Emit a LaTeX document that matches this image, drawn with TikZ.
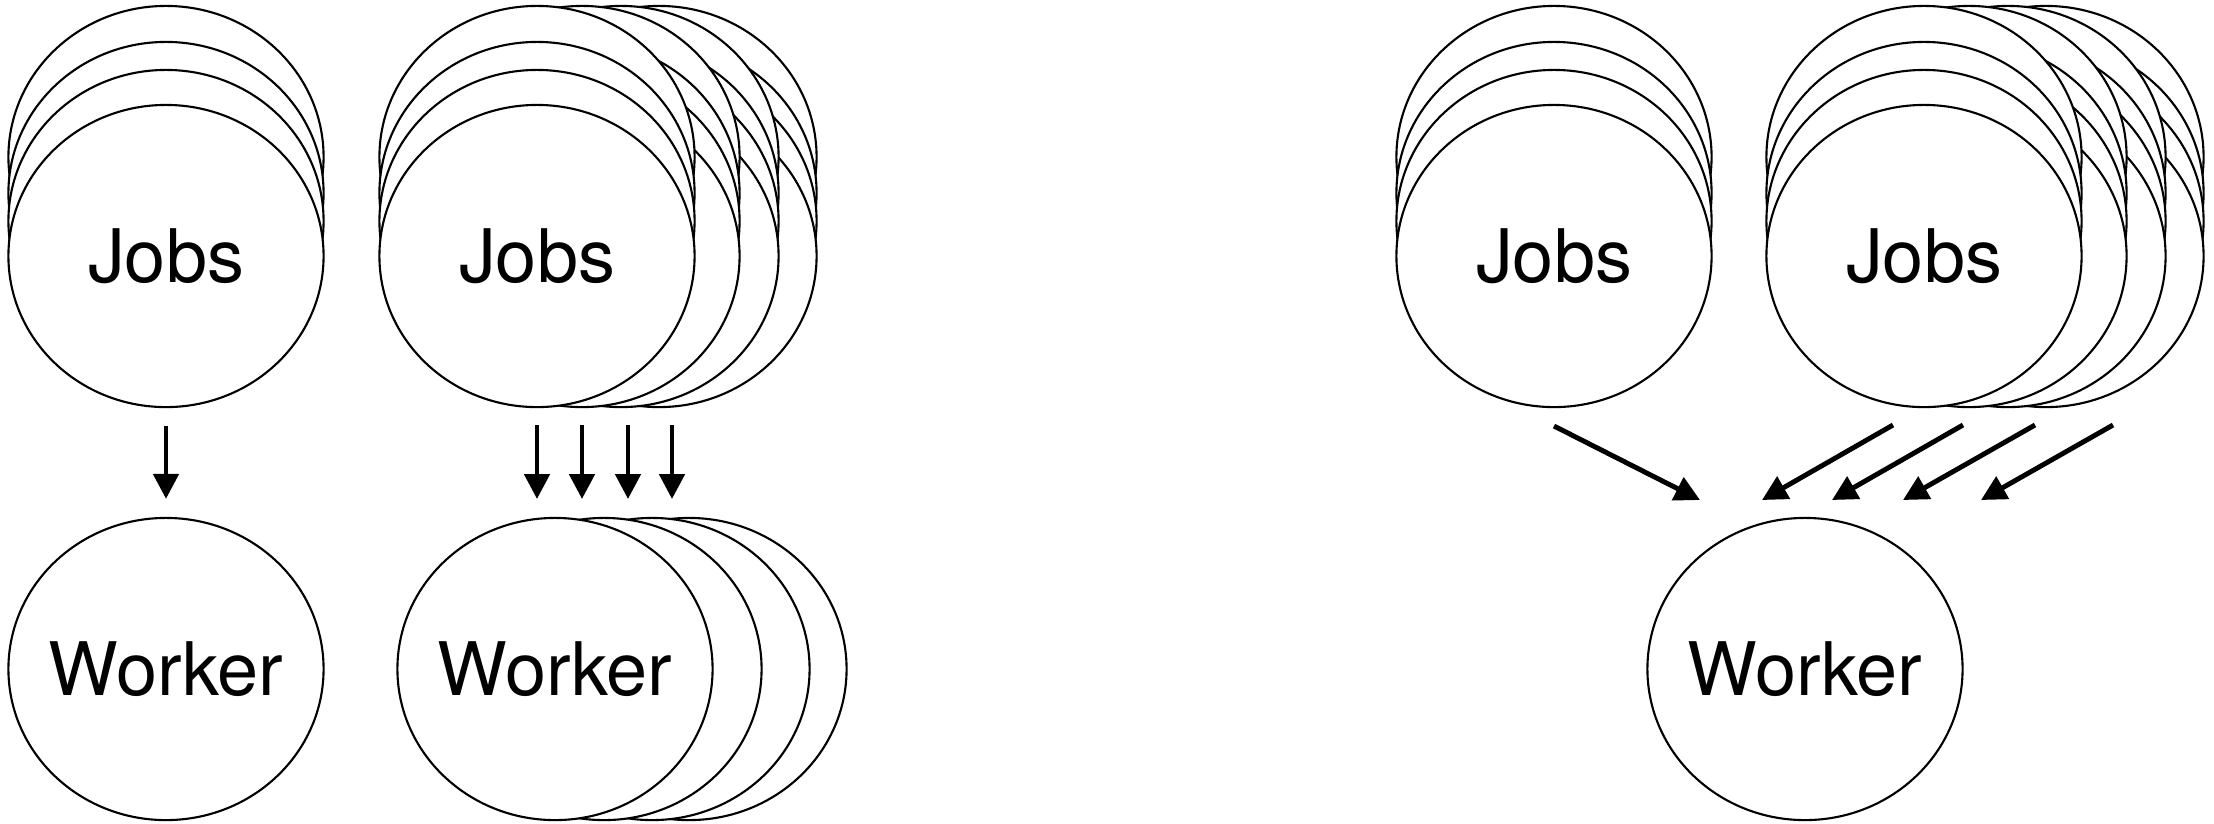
\documentclass[tikz,border=0pt]{standalone}
\usepackage{fontspec}
\setmainfont{TeX Gyre Heros}
\usepackage{tikz}
\usetikzlibrary{shapes.geometric, arrows.meta, positioning}
\tikzset{
  %% ---- circles ----
  jobcirc/.style  = {ellipse, draw=black, line width=0.6pt, fill=white,
                     minimum width=3.15cm, minimum height=3.02cm,
                     inner sep=0pt, inner xsep=-0.5cm,
                     font=\fontsize{21}{25}\selectfont},
  workcirc/.style = {jobcirc},
  %% ---- arrows ----
  arr/.style      = {-{Triangle[length=0.25cm, width=0.25cm]}, line width=1.4pt},
}
\begin{document}
\begin{tikzpicture}[x=0.01cm, y=-0.01cm]
\useasboundingbox (0,0) rectangle (2214,823);
%% one queue, one worker
\foreach \r/\y in {3/157, 2/193, 1/221}
  \node[jobcirc] (ja-\r) at (166,\y) {};
\node[jobcirc]  (ja) at (166,256) {Jobs};
\node[workcirc] (wa) at (166,669) {Worker};
\draw[arr, shorten <=0.18cm, shorten >=0.18cm] (ja) -- (wa);
%% many queues, many workers
\foreach \c/\dx in {3/122, 2/84, 1/45}
  \foreach \r/\y in {3/157, 2/193, 1/221, 0/256}
    \node[jobcirc] (jb-\c-\r) at (537+\dx,\y) {};
\foreach \r/\y in {3/157, 2/193, 1/221}
  \node[jobcirc] (jb-0-\r) at (537,\y) {};
\node[jobcirc] (jb) at (537,256) {Jobs};
\foreach \c/\dx in {3/134, 2/97, 1/49}
  \node[workcirc] (wb-\c) at (555+\dx,669) {};
\node[workcirc] (wb) at (555,669) {Worker};
\foreach \i/\x in {1/537, 2/582, 3/628, 4/672} {
  \coordinate (bs\i) at (\x,425);
  \coordinate (bt\i) at (\x,499);
  \draw[arr] (bs\i) -- (bt\i);
}
%% all queues into a single worker
\foreach \r/\y in {3/157, 2/193, 1/221}
  \node[jobcirc] (jc-\r) at (1554,\y) {};
\node[jobcirc] (jc) at (1554,256) {Jobs};
\foreach \c/\dx in {3/122, 2/84, 1/45}
  \foreach \r/\y in {3/157, 2/193, 1/221, 0/256}
    \node[jobcirc] (jd-\c-\r) at (1924+\dx,\y) {};
\foreach \r/\y in {3/157, 2/193, 1/221}
  \node[jobcirc] (jd-0-\r) at (1924,\y) {};
\node[jobcirc]  (jd) at (1924,256) {Jobs};
\node[workcirc] (wc) at (1805,669) {Worker};
\coordinate (cs0) at (1554,426);
\coordinate (ct0) at (1700,500);
\draw[arr] (cs0) -- (ct0);
\foreach \i/\x/\tx in {1/1893/1762, 2/1963/1832, 3/2035/1903, 4/2113/1981} {
  \coordinate (cs\i) at (\x,425);
  \coordinate (ct\i) at (\tx,500);
  \draw[arr] (cs\i) -- (ct\i);
}
\end{tikzpicture}
\end{document}
